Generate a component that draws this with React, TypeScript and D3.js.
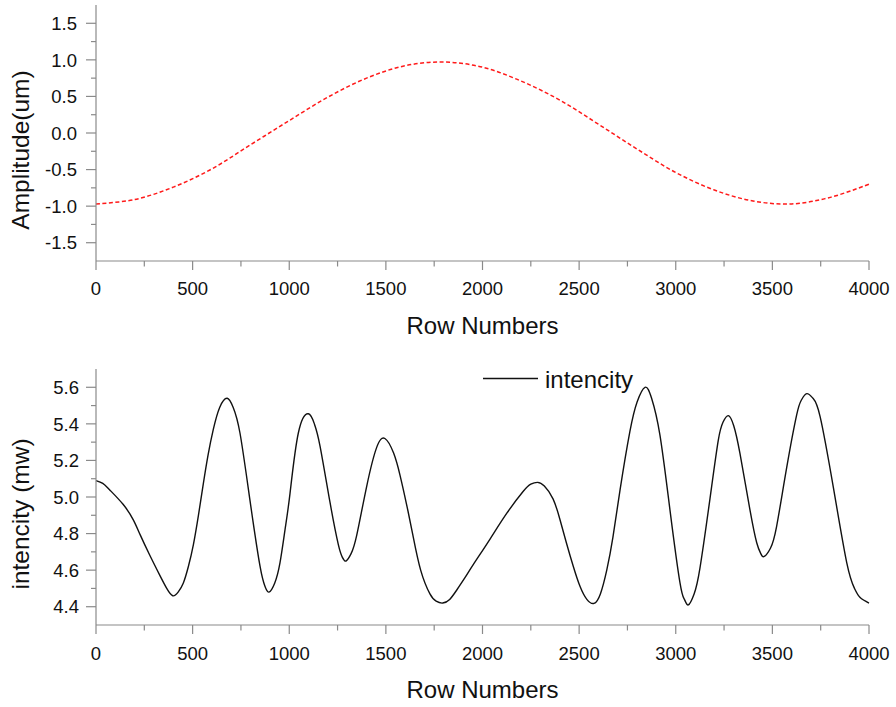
import React from "react";
import * as d3 from "d3";

const rowTicks = [0, 500, 1000, 1500, 2000, 2500, 3000, 3500, 4000];
const ampTicks = [-1.5, -1.0, -0.5, 0.0, 0.5, 1.0, 1.5];
const intTicks = [4.4, 4.6, 4.8, 5.0, 5.2, 5.4, 5.6];

const ampRows = [0, 200, 400, 600, 800, 1000, 1200, 1400, 1600, 1800, 2000, 2200, 2400, 2600, 2800, 3000, 3200, 3400, 3600, 3800, 4000];
const ampValues = [-0.97, -0.91, -0.74, -0.49, -0.16, 0.17, 0.49, 0.75, 0.92, 0.97, 0.9, 0.71, 0.45, 0.12, -0.22, -0.54, -0.78, -0.93, -0.97, -0.88, -0.7];

const intRows = [
  0, 35, 70, 140, 193, 230, 279, 331, 366, 397, 425, 452, 478, 504, 530, 555, 580, 607, 640, 679,
  710, 745, 797, 849, 875, 895, 925, 952, 978, 1004, 1047, 1099, 1130, 1159, 1211, 1254, 1275, 1294,
  1320, 1349, 1401, 1452, 1495, 1540, 1573, 1607, 1640, 1680, 1728, 1760, 1794, 1830, 1866, 1910,
  1952, 2039, 2125, 2210, 2250, 2285, 2320, 2365, 2400, 2434, 2470, 2505, 2540, 2577, 2610, 2643,
  2675, 2712, 2763, 2800, 2841, 2875, 2918, 2970, 3022, 3045, 3065, 3095, 3125, 3177, 3220, 3245, 3272,
  3300, 3332, 3384, 3419, 3440, 3458, 3490, 3522, 3574, 3626, 3650, 3678, 3710, 3747, 3816, 3885,
  3925, 3954, 4000,
];
const intValues = [
  5.09, 5.075, 5.04, 4.96, 4.875, 4.79, 4.68, 4.57, 4.5, 4.46, 4.48, 4.53, 4.62, 4.74, 4.9, 5.07, 5.23, 5.37, 5.49, 5.54,
  5.49, 5.35, 4.98, 4.62, 4.51, 4.48, 4.53, 4.64, 4.82, 5.02, 5.35, 5.455, 5.4, 5.28, 4.97, 4.74, 4.67, 4.65,
  4.69, 4.79, 5.06, 5.27, 5.32, 5.24, 5.12, 4.96, 4.79, 4.6, 4.47, 4.43, 4.42, 4.44, 4.49, 4.56,
  4.63, 4.77, 4.91, 5.03, 5.07, 5.08, 5.06, 4.99, 4.88, 4.75, 4.62, 4.51, 4.44, 4.418, 4.47, 4.6,
  4.78, 5.04, 5.36, 5.52, 5.6, 5.54, 5.34, 4.93, 4.53, 4.44, 4.41, 4.47, 4.61, 4.99, 5.31, 5.41, 5.445,
  5.39, 5.24, 4.93, 4.75, 4.69, 4.675, 4.72, 4.84, 5.16, 5.45, 5.53, 5.565, 5.54, 5.44, 5.05, 4.64,
  4.5, 4.45, 4.42,
];

const FONT = "'Liberation Sans', Arial, Helvetica, sans-serif";
const AXIS = "#8a8a8a";
const X0 = 96;
const X1 = 869;

type PanelProps = {
  top: number;
  bottom: number;
  domain: [number, number];
  ticks: number[];
  minorStep: number;
  rows: number[];
  values: number[];
  color: string;
  dash?: string;
  width: number;
  yTitle: string;
  yTitleCenter: number;
  yLabelX: number;
  xLabelBaseline: number;
  xTitleBaseline: number;
  curve: d3.CurveFactory;
};

function Panel(p: PanelProps) {
  const x = d3.scaleLinear().domain([0, 4000]).range([X0, X1]);
  const y = d3.scaleLinear().domain(p.domain).range([p.bottom, p.top]);
  const minorX = d3.range(250, 4000, 500);
  const minorY: number[] = [];
  for (let i = 0; i < p.ticks.length - 1; i++) minorY.push((p.ticks[i] + p.ticks[i + 1]) / 2);
  minorY.push(p.ticks[0] - p.minorStep);
  minorY.push(p.ticks[p.ticks.length - 1] + p.minorStep);
  const inDomain = minorY.filter((v) => v > p.domain[0] + 1e-6 && v < p.domain[1] - 1e-6);
  const pts = p.rows.map((r, i) => [r, p.values[i]] as [number, number]);
  const line = d3
    .line<[number, number]>()
    .x((d) => x(d[0]))
    .y((d) => y(d[1]))
    .curve(p.curve);
  const fmt = d3.format(".1f");
  return (
    <g>
      <path d={line(pts) || ""} fill="none" stroke={p.color} strokeWidth={p.width} strokeDasharray={p.dash} />
      <line x1={X0} x2={X0} y1={p.top} y2={p.bottom} stroke={AXIS} strokeWidth={1.2} />
      <line x1={X0} x2={X1} y1={p.bottom} y2={p.bottom} stroke={AXIS} strokeWidth={1.2} />
      {p.ticks.map((t) => (
        <g key={"y" + t}>
          <line x1={X0 - 10} x2={X0} y1={y(t)} y2={y(t)} stroke={AXIS} strokeWidth={1.2} />
          <text x={p.yLabelX} y={y(t)} dy="0.36em" textAnchor="end" fontSize={18.5} fontFamily={FONT} fill="#111">
            {fmt(t).replace("\u2212", "-")}
          </text>
        </g>
      ))}
      {inDomain.map((t) => (
        <line key={"ym" + t} x1={X0 - 5} x2={X0} y1={y(t)} y2={y(t)} stroke={AXIS} strokeWidth={1.2} />
      ))}
      {rowTicks.map((t) => (
        <g key={"x" + t}>
          <line x1={x(t)} x2={x(t)} y1={p.bottom} y2={p.bottom + 9} stroke={AXIS} strokeWidth={1.2} />
          <text x={x(t)} y={p.xLabelBaseline} textAnchor="middle" fontSize={18.5} fontFamily={FONT} fill="#111">
            {t}
          </text>
        </g>
      ))}
      {minorX.map((t) => (
        <line key={"xm" + t} x1={x(t)} x2={x(t)} y1={p.bottom} y2={p.bottom + 5.5} stroke={AXIS} strokeWidth={1.2} />
      ))}
      <text x={(X0 + X1) / 2} y={p.xTitleBaseline} textAnchor="middle" fontSize={24} fontFamily={FONT} fill="#111">
        Row Numbers
      </text>
      <text
        transform={`translate(29,${p.yTitleCenter}) rotate(-90)`}
        textAnchor="middle"
        fontSize={24.5}
        fontFamily={FONT}
        fill="#111"
      >
        {p.yTitle}
      </text>
    </g>
  );
}

export default function App() {
  return (
    <svg width={896} height={707} style={{ position: "absolute", left: 0, top: 0, background: "#fff" }}>
      <rect width={896} height={707} fill="#fff" />
      <Panel
        top={5}
        bottom={261}
        domain={[-1.75, 1.75]}
        ticks={ampTicks}
        minorStep={0.25}
        rows={ampRows}
        values={ampValues}
        color="#ff1a1a"
        dash="4,2.5"
        width={1.5}
        yTitle="Amplitude(um)"
        yTitleCenter={150}
        yLabelX={77}
        xLabelBaseline={295}
        xTitleBaseline={334}
        curve={d3.curveCatmullRom.alpha(0.5)}
      />
      <Panel
        top={369}
        bottom={625}
        domain={[4.3, 5.7]}
        ticks={intTicks}
        minorStep={0.1}
        rows={intRows}
        values={intValues}
        color="#111"
        width={1.4}
        yTitle="intencity (mw)"
        yTitleCenter={514}
        yLabelX={79}
        xLabelBaseline={660}
        xTitleBaseline={698}
        curve={d3.curveNatural}
      />
      <line x1={483} x2={538} y1={378.5} y2={378.5} stroke="#111" strokeWidth={1.4} />
      <text x={545} y={388} fontSize={24} fontFamily={FONT} fill="#111">
        intencity
      </text>
    </svg>
  );
}
